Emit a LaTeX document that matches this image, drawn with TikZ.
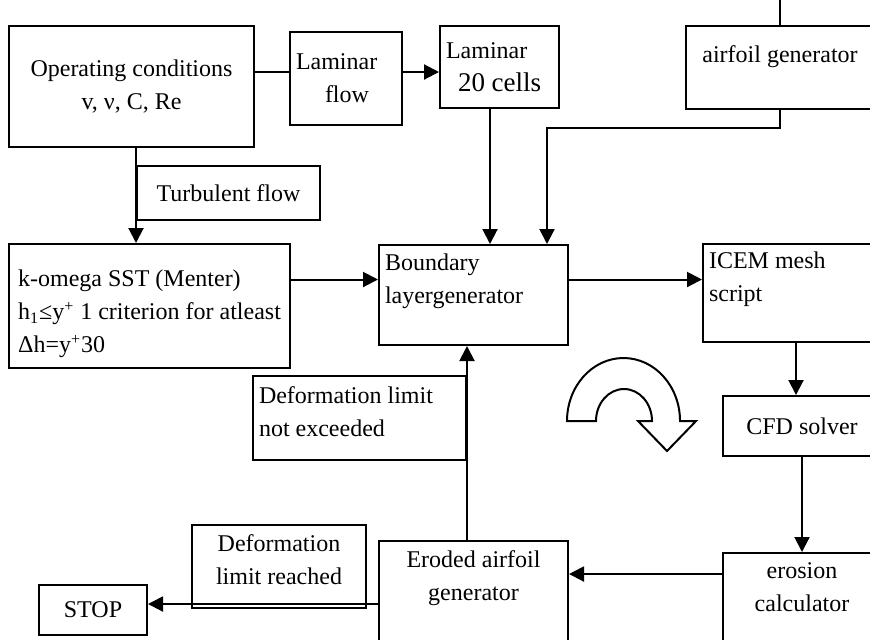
\documentclass[tikz,border=0pt]{standalone}
\usepackage{fontspec}
\setmainfont{Liberation Serif}
\usetikzlibrary{arrows.meta,positioning,calc}

\begin{document}
\begin{tikzpicture}[
  x=0.5pt, y=-0.5pt,
  font=\fontsize{12}{16.5}\selectfont,
  blk/.style={draw, line width=1pt, rectangle, inner xsep=3pt, inner ysep=0pt,
              align=center},
  lblk/.style={blk, align=flush left, text width=#1, minimum width=#1+6pt},
  arr/.style={-{Triangle[length=7.5pt,width=7.5pt]}, line width=1pt},
  wire/.style={line width=1pt},
  uturn/.style={draw, fill=white, line width=1pt, line join=miter},
]

% ─── frame: the picture is cut at its right and bottom edges ───
\useasboundingbox (0,0) rectangle (870,639);
\clip (0,0) rectangle (870,639);

% rows and columns shared by several connectors
\coordinate (lamrow)  at (0,72);
\coordinate (midrow)  at (0,279.5);
\coordinate (erorow)  at (0,574);
\coordinate (stoprow) at (0,604);
\coordinate (lamcol)  at (490,0);
\coordinate (aircol)  at (547,0);
\coordinate (airin)   at (780,-5);

% ─── top row ───────────────────────────────────────────────────
\node[blk, minimum width=122.5pt, minimum height=60.5pt] (opcond) at (131.5,86.5)
    {Operating conditions\\v, ν, C, Re};
\node[lblk=50pt, minimum height=46.5pt] (lamflow) at (346,78.5)
    {Laminar\\\hspace*{14.5pt}flow};
\node[lblk=53.5pt, minimum height=41pt] (lam20) at (499.5,67)
    {Laminar\\\hspace*{6pt}{\fontsize{13.5}{16.5}\selectfont 20 cells}};
\node[blk, minimum width=94pt, minimum height=41.5pt] (airgen) at (780,67.5)
    {airfoil generator\\[-3pt]~};
\node[blk, minimum width=91.5pt, minimum height=27pt] (turb) at (228.5,193)
    {Turbulent flow};

% ─── middle row ────────────────────────────────────────────────
\node[blk, align=flush left, minimum width=140.5pt, minimum height=62pt] (komega) at (149.5,306)
    {\rule{0pt}{16.5pt}k-omega SST (Menter)\\h\textsubscript{1}≤y\textsuperscript{+} 1 criterion for atleast\\Δh=y\textsuperscript{+}30};
\node[lblk=88.5pt, minimum height=50pt] (bnd) at (473.5,295)
    {Boundary\\layergenerator\\~};
\node[lblk=87pt, minimum height=49pt] (icem) at (796,293)
    {ICEM mesh\\script\\~};
\node[blk, minimum width=79pt, minimum height=30pt] (cfd) at (802,426)
    {CFD solver};
\node[lblk=100.5pt, minimum height=42pt] (defnot) at (359.5,418)
    {Deformation limit\\not exceeded\\[-10.5pt]~};

% ─── bottom row ────────────────────────────────────────────────
\node[blk, minimum width=79pt, minimum height=51pt] (eros) at (802,604)
    {erosion\\calculator\\~};
\node[blk, minimum width=94.5pt, minimum height=51pt] (erod) at (473.5,592)
    {Eroded airfoil\\generator\\~};
\node[blk, minimum width=87pt, minimum height=41.5pt] (defr) at (279,566.5)
    {Deformation\\limit reached\\[-9.5pt]~};
\node[blk, minimum width=54pt, minimum height=25pt] (stop) at (93,610)
    {STOP};

% ─── connectors ────────────────────────────────────────────────
\draw[wire] (opcond.east |- lamrow) -- (lamflow.west |- lamrow);
\draw[arr] (lamflow.east |- lamrow) -- (lam20.west |- lamrow);
\draw[wire] (airgen.north) -- (airin);
\draw[arr] (lamcol |- lam20.south) -- (lamcol |- bnd.north);
\draw[arr] (airgen.south) -- ++(0,18) -| (aircol |- bnd.north);
\draw[arr] (turb.west |- opcond.south) -- (turb.west |- komega.north);
\draw[arr] (komega.east |- midrow) -- (bnd.west |- midrow);
\draw[arr] (bnd.east |- midrow) -- (icem.west |- midrow);
\draw[arr] (icem.south) -- (icem.south |- cfd.north);
\draw[arr] (cfd.south) -- (eros.north);
\draw[arr] (eros.west |- erorow) -- (erod.east |- erorow);
\draw[arr] (defnot.east |- erod.north) -- (defnot.east |- bnd.south);
\draw[arr] (erod.west |- stoprow) -- (stop.east |- stoprow);

% ─── loop sign ─────────────────────────────────────────────────
\draw[uturn] (567,421) arc[start angle=180, end angle=0, x radius=28.25pt, y radius=31.5pt]
  -- (696,421) -- (667,451) -- (638,421) -- (652,421)
  arc[start angle=0, end angle=180, x radius=14pt, y radius=16pt] -- cycle;

\end{tikzpicture}
\end{document}
